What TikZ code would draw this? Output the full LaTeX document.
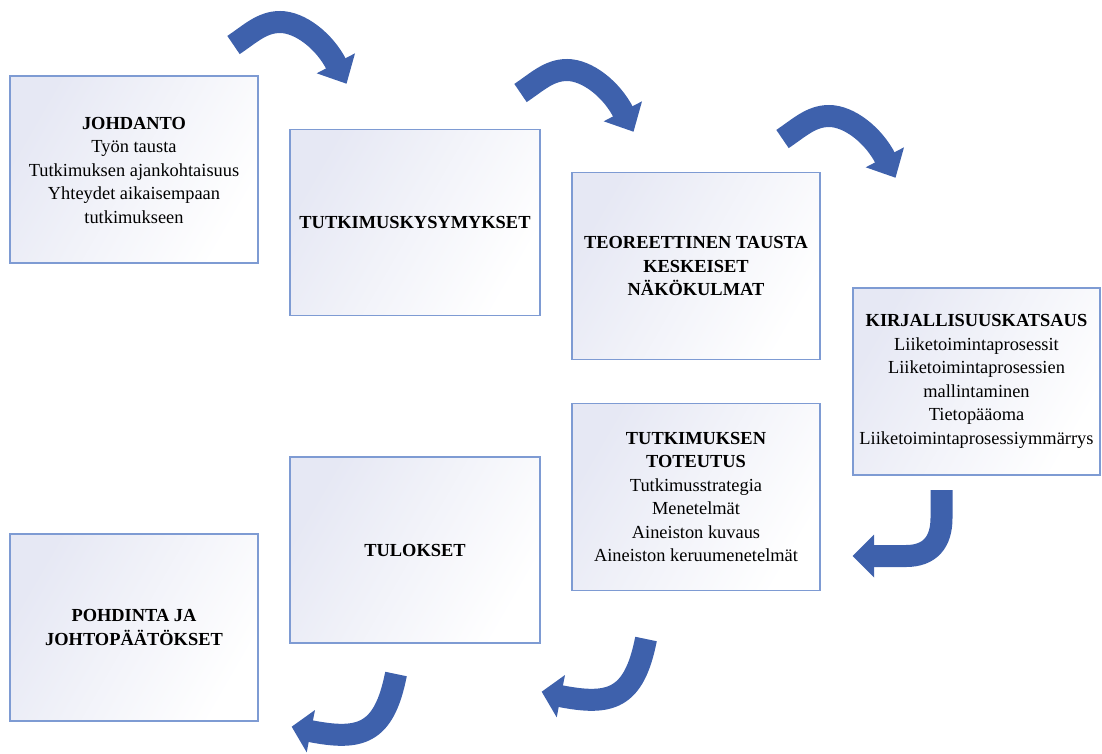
\documentclass[tikz,border=0pt]{standalone}
\usepackage{fontspec}
\setmainfont{Liberation Serif}
\definecolor{boxlav}{RGB}{230,232,244}
\definecolor{boxedge}{RGB}{126,155,211}
\definecolor{arrowblue}{RGB}{62,97,172}
\begin{document}
\begin{tikzpicture}[x=1pt,y=-1pt,
  box/.style={draw=boxedge, line width=1.2pt, top color=boxlav, bottom color=white,
    shading angle=60, minimum width=248pt, minimum height=187pt, inner sep=0pt,
    align=center, font=\fontsize{18.4}{23.5}\selectfont},
  shaft/.style={draw=arrowblue, line width=22pt},
  tiphead/.style={fill=arrowblue}]
\useasboundingbox (0,0) rectangle (1102,753);

% text boxes
\node[box] (johdanto) at (134,169.5) {{}\\[-9.5pt]\textbf{JOHDANTO}\\Työn tausta\\Tutkimuksen ajankohtaisuus\\Yhteydet aikaisempaan\\tutkimukseen};
\node[box, minimum width=250pt, minimum height=186pt] (kysymykset) at (415,222.5) {\textbf{TUTKIMUSKYSYMYKSET}};
\node[box] (teoria) at (696,266) {\textbf{TEOREETTINEN TAUSTA}\\\textbf{KESKEISET}\\\textbf{NÄKÖKULMAT}};
\node[box, minimum width=247pt] (kirjallisuus) at (976.5,381.5) {\textbf{KIRJALLISUUSKATSAUS}\\Liiketoimintaprosessit\\Liiketoimintaprosessien\\mallintaminen\\Tietopääoma\\Liiketoimintaprosessiymmärrys};
\node[box] (toteutus) at (696,497) {\textbf{TUTKIMUKSEN}\\\textbf{TOTEUTUS}\\Tutkimusstrategia\\Menetelmät\\Aineiston kuvaus\\Aineiston keruumenetelmät};
\node[box, minimum width=250pt, minimum height=186pt] (tulokset) at (415,550) {\textbf{TULOKSET}};
\node[box] (pohdinta) at (134,627.5) {\textbf{POHDINTA JA}\\\textbf{JOHTOPÄÄTÖKSET}};

% curved arrows along the top row
\foreach \dx/\dy in {0/0, 287/48, 549/94}{
  \begin{scope}[shift={(\dx,\dy)}]
    \draw[shaft] (233.5,45) .. controls (250,34) and (262,22) .. (280,22)
                 .. controls (300,22) and (324.5,41) .. (336.7,65.1);
    \fill[tiphead] (316.7,73.3) -- (355,53.3) -- (346.5,83.7) -- cycle;
  \end{scope}
}

% turning arrow on the right side
\draw[shaft] (941.5,490) -- (941.5,518) .. controls (941.5,542) and (930,556) .. (906,556) -- (872,556);
\fill[tiphead] (874,534.5) -- (852.5,556) -- (874,577.5) -- cycle;

% curved arrows along the bottom row
\foreach \dx/\dy in {0/0, -250/35}{
  \begin{scope}[shift={(\dx,\dy)}]
    \draw[shaft] (646,639) .. controls (634,700) and (610,706) .. (558.8,695.8);
    \fill[tiphead] (565,675) -- (541.7,691.7) -- (556.7,717.3) -- cycle;
  \end{scope}
}
\end{tikzpicture}
\end{document}
